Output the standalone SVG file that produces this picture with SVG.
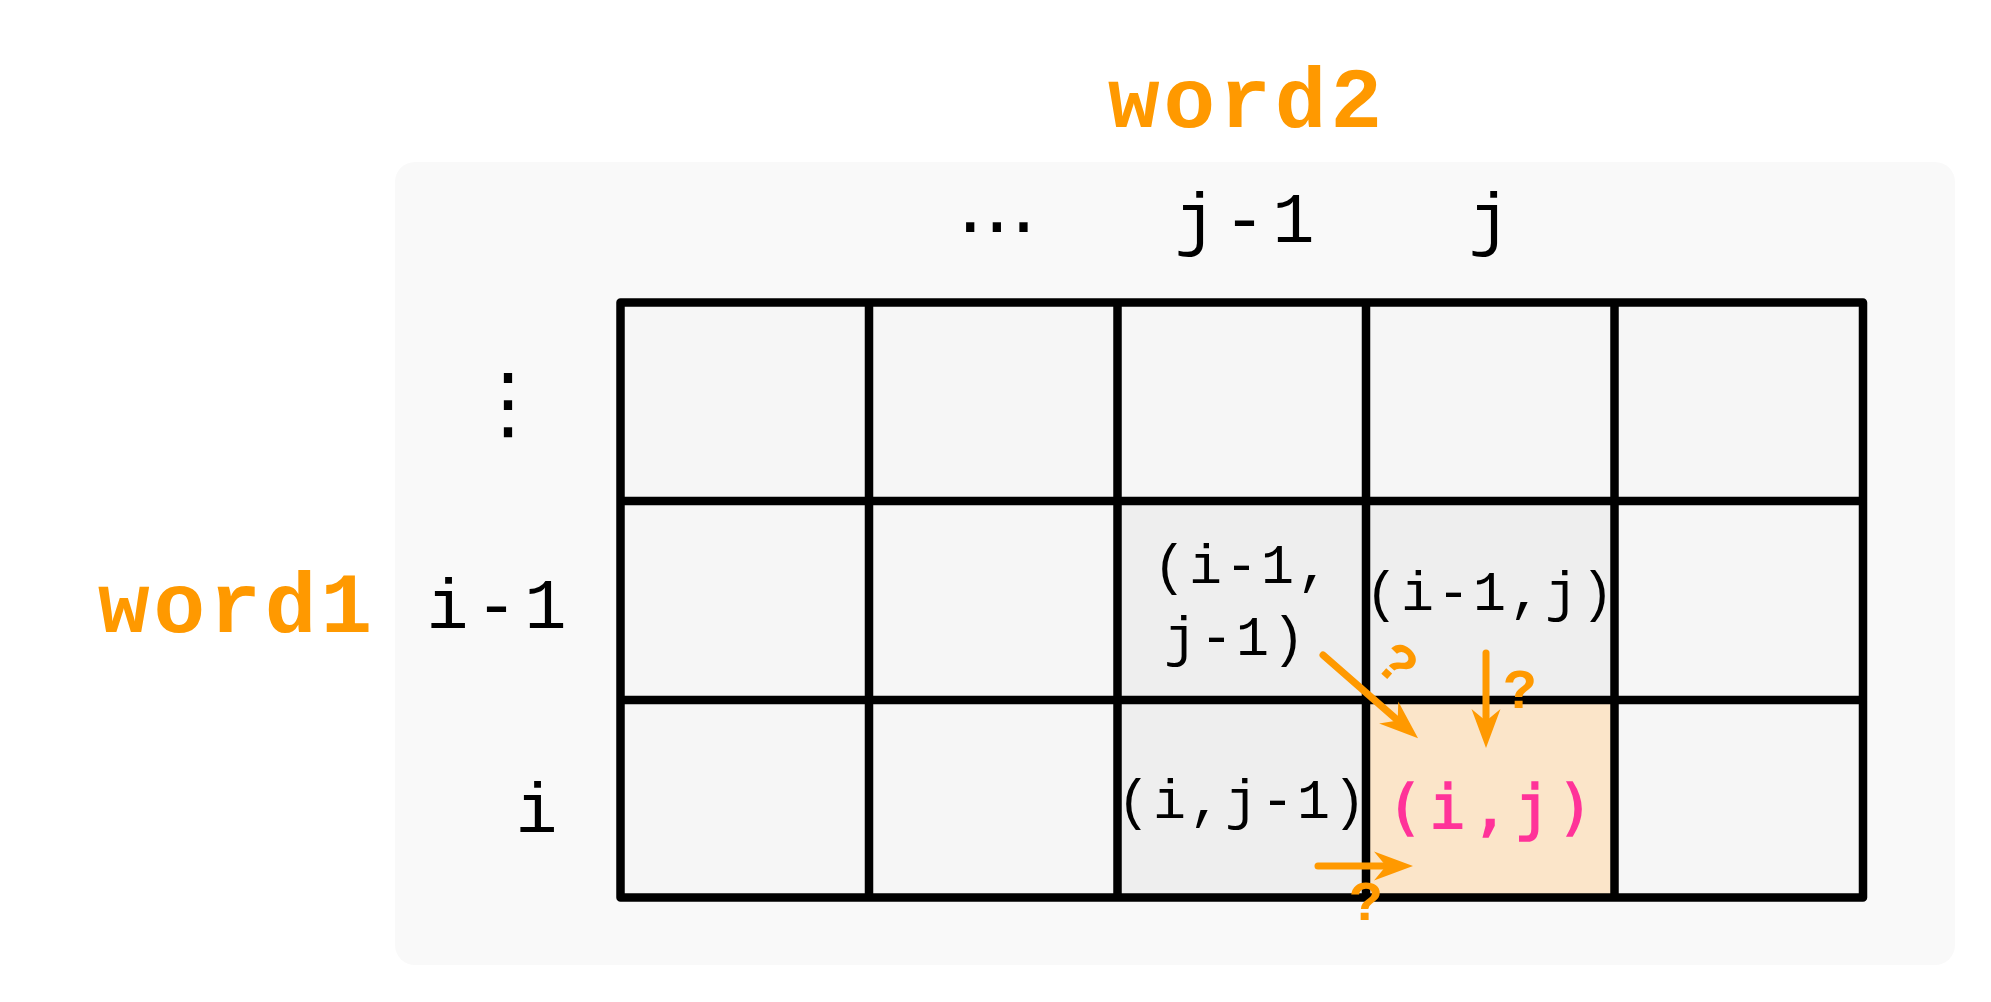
<svg xmlns="http://www.w3.org/2000/svg" width="1991" height="1002" viewBox="0 0 1991 1002">
<style>
.cell{fill:#f6f6f6}
.hl{fill:#eeeeee}
.tg{fill:#fbe5c9}
.grid{stroke:#000;stroke-width:8.5;fill:none;stroke-linecap:round;stroke-linejoin:round}
.title{font-family:"Courier New","Liberation Mono",monospace;font-weight:bold;font-size:86px;fill:#ff9900;text-anchor:middle;letter-spacing:4px}
.axis{font-family:"Liberation Mono",monospace;font-size:70px;fill:#000;text-anchor:middle;letter-spacing:7px}
.lbl{font-family:"Liberation Mono",monospace;font-size:55px;fill:#000;text-anchor:middle;letter-spacing:3px}
.pink{font-family:"DejaVu Sans Mono",monospace;font-size:61px;fill:#ff3399;stroke:#ff3399;stroke-width:1.6;text-anchor:middle;letter-spacing:6px}
.dots{font-family:"Noto Sans","DejaVu Sans",sans-serif;font-size:80px;fill:#000;text-anchor:middle}
.arr{stroke:#ff9900;stroke-width:7;stroke-linecap:round;fill:none;marker-end:url(#ah)}
.q{font-family:"Courier New","Liberation Mono",monospace;font-weight:bold;font-size:56px;fill:#ff9900;text-anchor:middle}
</style>
<defs>
<marker id="ah" markerUnits="userSpaceOnUse" viewBox="-24 -18 48 36" markerWidth="48" markerHeight="36" refX="0" refY="0" orient="auto">
<path d="M20,0 L-19,-14.5 L-7,0 L-19,14.5 Z" fill="#ff9900"/>
</marker>
</defs>
<rect width="1991" height="1002" fill="#ffffff"/>
<rect id="panel" x="395" y="162" width="1560" height="803" rx="20" fill="#f9f9f9"/>
<g id="title-word2"><text class="title" x="1247" y="127">word2</text></g>
<g id="title-word1"><text class="title" x="237" y="632">word1</text></g>
<g id="col-headers">
<text class="dots" x="997" y="252">⋯</text>
<text class="axis" x="1248" y="242">j-1</text>
<text class="axis" x="1493" y="242">j</text>
</g>
<g id="row-headers">
<text class="dots" x="508" y="430">⋮</text>
<text class="axis" x="500" y="628">i-1</text>
<text class="axis" x="540" y="832">i</text>
</g>
<g id="cells">
<g id="r0c0"><rect class="cell" x="620.5" y="302.5" width="248.5" height="198.5"/></g>
<g id="r0c1"><rect class="cell" x="869" y="302.5" width="248.5" height="198.5"/></g>
<g id="r0c2"><rect class="cell" x="1117.5" y="302.5" width="248.5" height="198.5"/></g>
<g id="r0c3"><rect class="cell" x="1366" y="302.5" width="248.5" height="198.5"/></g>
<g id="r0c4"><rect class="cell" x="1614.5" y="302.5" width="248.5" height="198.5"/></g>
<g id="r1c0"><rect class="cell" x="620.5" y="501" width="248.5" height="199"/></g>
<g id="r1c1"><rect class="cell" x="869" y="501" width="248.5" height="199"/></g>
<g id="cell-i1-j1"><rect class="hl" x="1117.5" y="501" width="248.5" height="199"/>
<text class="lbl" x="1243" y="583">(i-1,</text>
<text class="lbl" x="1236" y="655">j-1)</text></g>
<g id="cell-i1-j"><rect class="hl" x="1366" y="501" width="248.5" height="199"/>
<text class="lbl" x="1491" y="610">(i-1,j)</text></g>
<g id="r1c4"><rect class="cell" x="1614.5" y="501" width="248.5" height="199"/></g>
<g id="r2c0"><rect class="cell" x="620.5" y="700" width="248.5" height="197.5"/></g>
<g id="r2c1"><rect class="cell" x="869" y="700" width="248.5" height="197.5"/></g>
<g id="cell-i-j1"><rect class="hl" x="1117.5" y="700" width="248.5" height="197.5"/>
<text class="lbl" x="1243" y="818">(i,j-1)</text></g>
<g id="cell-i-j"><rect class="tg" x="1366" y="700" width="248.5" height="197.5"/>
<text class="pink" x="1493" y="828">(i,j)</text></g>
<g id="r2c4"><rect class="cell" x="1614.5" y="700" width="248.5" height="197.5"/></g>
</g>
<g id="grid">
<path class="grid" d="M620.5,302.5 H1863 V897.5 H620.5 Z M620.5,501 H1863 M620.5,700 H1863 M869,302.5 V897.5 M1117.5,302.5 V897.5 M1366,302.5 V897.5 M1614.5,302.5 V897.5"/>
</g>
<g id="connectors">
<line class="arr" x1="1323" y1="655" x2="1403" y2="725"/>
<line class="arr" x1="1486" y1="653" x2="1486" y2="728"/>
<line class="arr" x1="1318" y1="866" x2="1393" y2="866"/>
<text class="q" x="1398" y="682" transform="rotate(41.4 1398 663)">?</text>
<text class="q" x="1520" y="708">?</text>
<text class="q" x="1366" y="920">?</text>
</g>
</svg>
